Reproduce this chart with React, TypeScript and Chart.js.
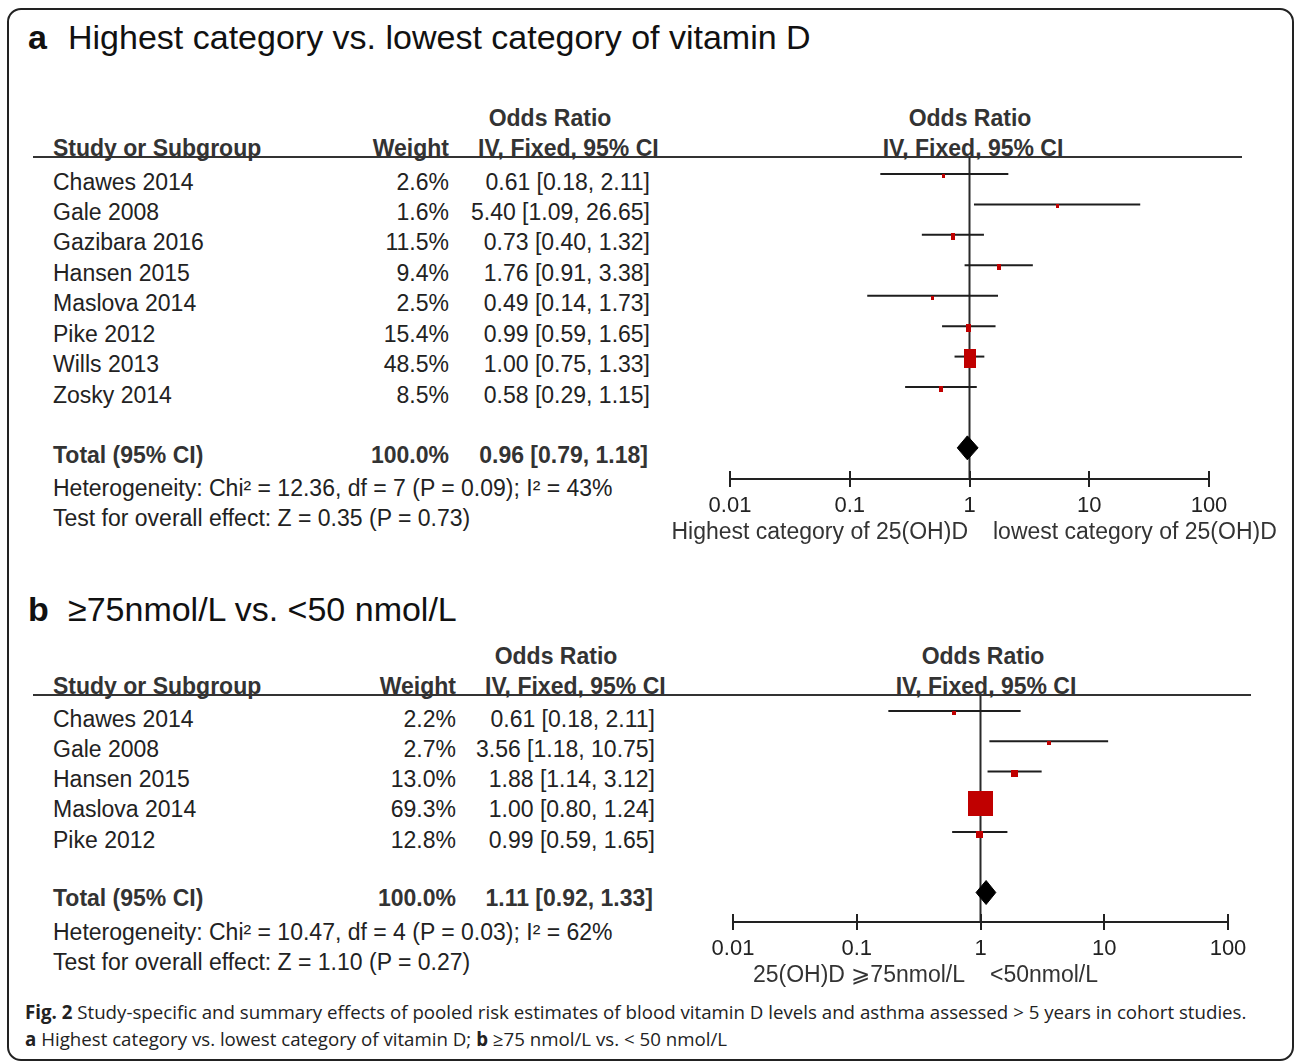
import React, { useEffect, useRef } from 'react';
import { Chart, registerables } from 'chart.js';
Chart.register(...registerables);

// ---------------- data ----------------
const studiesA = ['Chawes 2014', 'Gale 2008', 'Gazibara 2016', 'Hansen 2015', 'Maslova 2014', 'Pike 2012', 'Wills 2013', 'Zosky 2014'];
const weightsA = [2.6, 1.6, 11.5, 9.4, 2.5, 15.4, 48.5, 8.5];
const orA = [0.61, 5.4, 0.73, 1.76, 0.49, 0.99, 1.0, 0.58];
const lowA = [0.18, 1.09, 0.4, 0.91, 0.14, 0.59, 0.75, 0.29];
const highA = [2.11, 26.65, 1.32, 3.38, 1.73, 1.65, 1.33, 1.15];
const totalA = [0.96, 0.79, 1.18];
const hetA = 'Heterogeneity: Chi² = 12.36, df = 7 (P = 0.09); I² = 43%';
const testA = 'Test for overall effect: Z = 0.35 (P = 0.73)';

const studiesB = ['Chawes 2014', 'Gale 2008', 'Hansen 2015', 'Maslova 2014', 'Pike 2012'];
const weightsB = [2.2, 2.7, 13.0, 69.3, 12.8];
const orB = [0.61, 3.56, 1.88, 1.0, 0.99];
const lowB = [0.18, 1.18, 1.14, 0.8, 0.59];
const highB = [2.11, 10.75, 3.12, 1.24, 1.65];
const totalB = [1.11, 0.92, 1.33];
const hetB = 'Heterogeneity: Chi² = 10.47, df = 4 (P = 0.03); I² = 62%';
const testB = 'Test for overall effect: Z = 1.10 (P = 0.27)';

const tickValues = [0.01, 0.1, 1, 10, 100];

// ---------------- layout ----------------
const W = 1296;
const H = 1064;
const SANS = '"Liberation Sans", Arial, Helvetica, sans-serif';
const CAP_FONT = '"Open Sans", sans-serif';
const SQUARE_DROP = 2;
const DIAMOND_HALF = 12;

const LAYOUT_A = {
  label: 'a', title: 'Highest category vs. lowest category of vitamin D', titleBase: 49,
  orHeadBase: 126, headBase: 156, lineY: 157, lineX0: 33, lineX1: 1242,
  nameX: 53, weightRight: 449, orRight: 650, totalOrRight: 648, orHeadCenter: 550, ivHeadLeft: 478,
  plotHeadCenter: 970, plotIvCenter: 973,
  row0: 174, step: 30.43, textDrop: 16, totalRow: 9, totalBase: 463, hetBase: 496, testBase: 526,
  plotLeft: 730, plotRight: 1209, plotTop: 157, plotBottom: 479,
  axisLabelBase: 539, leftLabelRight: 968, rightLabelLeft: 993,
  leftLabel: 'Highest category of 25(OH)D', rightLabel: 'lowest category of 25(OH)D',
  aspect: 0.62,
};
const LAYOUT_B = {
  label: 'b', title: '≥75nmol/L vs. <50 nmol/L', titleBase: 621,
  orHeadBase: 664, headBase: 694, lineY: 695, lineX0: 33, lineX1: 1251,
  nameX: 53, weightRight: 456, orRight: 655, totalOrRight: 653, orHeadCenter: 556, ivHeadLeft: 485,
  plotHeadCenter: 983, plotIvCenter: 986,
  row0: 711, step: 30.25, textDrop: 16, totalRow: 6, totalBase: 906, hetBase: 940, testBase: 970,
  plotLeft: 733, plotRight: 1228, plotTop: 695, plotBottom: 922,
  axisLabelBase: 982, leftLabelRight: 965, rightLabelLeft: 990,
  leftLabel: '25(OH)D ⩾75nmol/L', rightLabel: '<50nmol/L',
  aspect: 1,
};

type Align = 'left' | 'right' | 'center';
function T(props: { x: number; base: number; size: number; bold?: boolean; align?: Align; color?: string; family?: string; asc?: number; children: any }) {
  const { x, base, size, bold, align = 'left', color = '#222', family = SANS, asc = 0.8465, children } = props;
  const style: any = {
    position: 'absolute', top: base - asc * size, fontSize: size, lineHeight: `${size}px`,
    fontFamily: family, fontWeight: bold ? 700 : 400, color, whiteSpace: 'nowrap',
  };
  if (align === 'left') style.left = x;
  else if (align === 'right') { style.right = W - x; style.textAlign = 'right'; }
  else { style.left = x - 400; style.width = 800; style.textAlign = 'center'; }
  return <div style={style}>{children}</div>;
}

function boxImage(w: number, h: number, color: string) {
  const c = document.createElement('canvas');
  c.width = w; c.height = h;
  const g = c.getContext('2d')!;
  g.fillStyle = color;
  g.fillRect(0, 0, w, h);
  return c;
}

const upTicks = {
  id: 'upTicks',
  afterDraw(chart: any) {
    const s = chart.scales.x;
    const ctx = chart.ctx;
    const yb = chart.chartArea.bottom;
    ctx.save();
    ctx.strokeStyle = '#222';
    ctx.lineWidth = 2;
    s.ticks.forEach((t: any) => {
      const px = Math.round(s.getPixelForValue(t.value) - 1) + 1;
      ctx.beginPath();
      ctx.moveTo(px, yb - 8);
      ctx.lineTo(px, yb);
      ctx.stroke();
    });
    ctx.restore();
  },
};

const fmt = (v: number) => v.toFixed(2);

function ForestChart(props: { L: any; weights: number[]; ors: number[]; lows: number[]; highs: number[]; total: number[] }) {
  const { L, weights, ors, lows, highs, total } = props;
  const ref = useRef<HTMLCanvasElement>(null);
  const padL = 40, padR = 60, padT = 12, axisH = 44;
  const cLeft = L.plotLeft - padL;
  const cTop = L.plotTop - padT;
  const cW = L.plotRight + padR - cLeft;
  const cH = L.plotBottom - cTop + axisH;
  useEffect(() => {
    const yMin = (L.plotTop - L.row0) / L.step;
    const yMax = (L.plotBottom - L.row0) / L.step;
    const drop = SQUARE_DROP / L.step;
    const dh = DIAMOND_HALF / L.step;
    const imgs = weights.map((w) => {
      const h = Math.max(3, Math.round(3 + 0.32 * w));
      const wd = Math.max(3, Math.round(h * L.aspect));
      return boxImage(wd, h, '#c00000');
    });
    const datasets: any[] = [
      {
        type: 'line', data: ors.map((v, i) => ({ x: v, y: i + drop })), showLine: false,
        pointStyle: imgs, pointRadius: 3, borderWidth: 0,
      },
      {
        type: 'line',
        data: [
          { x: total[1], y: L.totalRow }, { x: total[0], y: L.totalRow - dh },
          { x: total[2], y: L.totalRow }, { x: total[0], y: L.totalRow + dh },
          { x: total[1], y: L.totalRow },
        ],
        fill: 'shape', backgroundColor: '#000', borderColor: '#000', borderWidth: 1, pointRadius: 0, tension: 0,
      },
      ...lows.map((lo, i) => ({
        type: 'line', data: [{ x: lo, y: i }, { x: highs[i], y: i }],
        borderColor: '#1e1e1e', borderWidth: 2, pointRadius: 0,
      })),
      {
        type: 'line', data: [{ x: 1, y: yMin }, { x: 1, y: yMax }],
        borderColor: '#2a2a2a', borderWidth: 2, pointRadius: 0,
      },
    ];
    const chart = new Chart(ref.current!, {
      type: 'line',
      data: { datasets },
      options: {
        animation: false, responsive: false, events: [],
        layout: { padding: { left: padL, right: padR, top: padT, bottom: 0 } },
        plugins: { legend: { display: false }, tooltip: { enabled: false } },
        scales: {
          x: {
            type: 'logarithmic', min: 0.01, max: 100, position: 'bottom',
            afterBuildTicks: (s: any) => { s.ticks = tickValues.map((v) => ({ value: v })); },
            afterFit: (s: any) => { s.height = axisH; },
            grid: { drawOnChartArea: false, drawTicks: true, tickLength: 8, color: '#222', lineWidth: 2 },
            border: { display: true, color: '#222', width: 2 },
            ticks: {
              autoSkip: false, maxRotation: 0, padding: 6, color: '#222',
              font: { family: '"Liberation Sans", Arial', size: 22 },
              callback: (v: any) => String(v),
            },
          },
          y: { type: 'linear', display: false, min: yMin, max: yMax, reverse: true },
        },
      } as any,
      plugins: [upTicks],
    });
    return () => chart.destroy();
  }, []);
  return (
    <canvas ref={ref} width={cW} height={cH}
      style={{ position: 'absolute', left: cLeft, top: cTop, width: cW, height: cH }} />
  );
}

function Panel(props: { L: any; studies: string[]; weights: number[]; ors: number[]; lows: number[]; highs: number[]; total: number[]; het: string; test: string }) {
  const { L, studies, weights, ors, lows, highs, total, het, test } = props;
  const rowBase = (i: number) => L.row0 + i * L.step + L.textDrop;
  const fs = 23;
  return (
    <>
      <T x={28} base={L.titleBase} size={34} bold color="#111">{L.label}</T>
      <T x={68} base={L.titleBase} size={34} color="#111">{L.title}</T>

      <T x={L.orHeadCenter} base={L.orHeadBase} size={fs} bold align="center" color="#333">Odds Ratio</T>
      <T x={L.plotHeadCenter} base={L.orHeadBase} size={fs} bold align="center" color="#333">Odds Ratio</T>
      <T x={L.nameX} base={L.headBase} size={fs} bold color="#333">Study or Subgroup</T>
      <T x={L.weightRight} base={L.headBase} size={fs} bold align="right" color="#333">Weight</T>
      <T x={L.ivHeadLeft} base={L.headBase} size={fs} bold color="#333">IV, Fixed, 95% CI</T>
      <T x={L.plotIvCenter} base={L.headBase} size={fs} bold align="center" color="#333">IV, Fixed, 95% CI</T>
      <div style={{ position: 'absolute', left: L.lineX0, top: L.lineY - 1, width: L.lineX1 - L.lineX0, height: 2, background: '#333' }} />

      {studies.map((s, i) => (
        <React.Fragment key={s}>
          <T x={L.nameX} base={rowBase(i)} size={fs}>{s}</T>
          <T x={L.weightRight} base={rowBase(i)} size={fs} align="right">{weights[i].toFixed(1)}%</T>
          <T x={L.orRight} base={rowBase(i)} size={fs} align="right">{`${fmt(ors[i])} [${fmt(lows[i])}, ${fmt(highs[i])}]`}</T>
        </React.Fragment>
      ))}

      <T x={L.nameX} base={L.totalBase} size={fs} bold color="#333">Total (95% CI)</T>
      <T x={L.weightRight} base={L.totalBase} size={fs} bold align="right" color="#333">100.0%</T>
      <T x={L.totalOrRight} base={L.totalBase} size={fs} bold align="right" color="#333">{`${fmt(total[0])} [${fmt(total[1])}, ${fmt(total[2])}]`}</T>
      <T x={L.nameX} base={L.hetBase} size={fs}>{het}</T>
      <T x={L.nameX} base={L.testBase} size={fs}>{test}</T>

      <ForestChart L={L} weights={weights} ors={ors} lows={lows} highs={highs} total={total} />
      <T x={L.leftLabelRight} base={L.axisLabelBase} size={fs} align="right" color="#333">{L.leftLabel}</T>
      <T x={L.rightLabelLeft} base={L.axisLabelBase} size={fs} color="#333">{L.rightLabel}</T>
    </>
  );
}

export default function App() {
  return (
    <div style={{ position: 'absolute', left: 0, top: 0, width: W, height: H, background: '#fff', overflow: 'hidden', fontFamily: SANS }}>
      <div style={{ position: 'absolute', left: 7, top: 8, width: 1287, height: 1053, boxSizing: 'border-box', border: '2px solid #222', borderRadius: 14 }} />
      <Panel L={LAYOUT_A} studies={studiesA} weights={weightsA} ors={orA} lows={lowA} highs={highA} total={totalA} het={hetA} test={testA} />
      <Panel L={LAYOUT_B} studies={studiesB} weights={weightsB} ors={orB} lows={lowB} highs={highB} total={totalB} het={hetB} test={testB} />
      <T x={25} base={1020} size={18.7} family={CAP_FONT} asc={0.888}>
        <b>Fig. 2</b> Study-specific and summary effects of pooled risk estimates of blood vitamin D levels and asthma assessed &gt; 5 years in cohort studies.
      </T>
      <T x={25} base={1047} size={18.7} family={CAP_FONT} asc={0.888}>
        <b>a</b> Highest category vs. lowest category of vitamin D; <b>b</b> ≥75 nmol/L vs. &lt; 50 nmol/L
      </T>
    </div>
  );
}
